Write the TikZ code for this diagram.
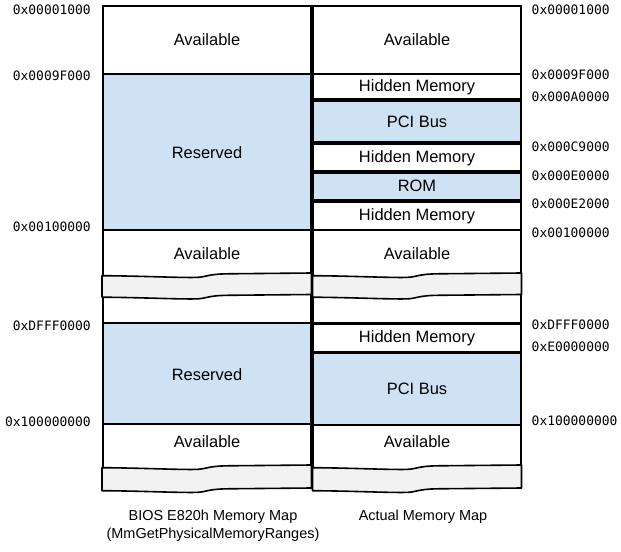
\documentclass[tikz,border=0pt]{standalone}
\usepackage{fontspec}
\setmainfont{Liberation Sans}
\newfontfamily\monofnt{DejaVu Sans Mono}
\definecolor{memblue}{HTML}{CFE2F3}
\definecolor{tornfill}{HTML}{F2F2F2}
\tikzset{
  col/.style={draw=black, line width=1.6bp, fill=white},
  colblue/.style={col, fill=memblue},
  inner/.style={draw=black, line width=2.3bp, fill=white},
  innerblue/.style={inner, fill=memblue},
  band/.style={draw=black, line width=1.6bp, fill=tornfill, line join=round},
  boxtxt/.style={font=\fontsize{16.5}{19}\selectfont, inner sep=0pt},
  addr/.style={font=\monofnt\fontsize{13}{15}\selectfont, inner sep=0pt},
  lbl/.style={addr, anchor=east},
  rbl/.style={addr, anchor=west},
  captxt/.style={font=\fontsize{14.5}{18}\selectfont, align=center, inner sep=0pt},
}
% #1 = left x, #2 = width, #3 = top y (right end), #4 = bottom y (right end)
\newcommand{\tornband}[4]{%
  \filldraw[band] ({#1},{#3+2.7})
    .. controls ({#1+0.2*#2},{#3+3.0}) and ({#1+0.36*#2},{#3+4.8}) .. ({#1+0.45*#2},{#3+4.4})
    .. controls ({#1+0.5*#2},{#3+4.1}) and ({#1+0.5*#2},{#3+1.1}) .. ({#1+0.6*#2},{#3+0.8})
    -- ({#1+#2},{#3}) -- ({#1+#2},{#4}) -- ({#1+0.6*#2},{#4+0.8})
    .. controls ({#1+0.5*#2},{#4+1.1}) and ({#1+0.5*#2},{#4+4.1}) .. ({#1+0.45*#2},{#4+4.4})
    .. controls ({#1+0.36*#2},{#4+4.8}) and ({#1+0.2*#2},{#4+3.0}) .. ({#1},{#4+2.7}) -- cycle;}
\begin{document}
\begin{tikzpicture}[x=1bp, y=-1bp]
\useasboundingbox (0,0) rectangle (621,552);
\fill[white] (0,0) rectangle (621,552);

% ---------- left column (BIOS E820h) ----------
\draw[col] (103,6) rectangle (311,74);
\node[boxtxt] (lavail1) at (207,40) {Available};
\draw[colblue] (103,74) rectangle (311,230);
\node[boxtxt] (lres1) at (207,153) {Reserved};
\draw[col] (103,230) rectangle (311,323);
\node[boxtxt] (lavail2) at (207,254) {Available};
\tornband{102}{209.5}{273}{294.5}
\draw[colblue] (103,323) rectangle (311,424);
\node[boxtxt] (lres2) at (207,375) {Reserved};
\draw[col] (103,424) rectangle (311,478);
\node[boxtxt] (lavail3) at (207,442) {Available};
\tornband{102}{209.5}{465}{488}

% ---------- right column (actual) ----------
\draw[col] (313,6) rectangle (521,74);
\node[boxtxt] (ravail1) at (417,40) {Available};
\draw[inner] (313,74) rectangle (521,99.5);
\node[boxtxt] (rhid1) at (417,87.5) {Hidden Memory};
\draw[innerblue] (313,101) rectangle (521,142);
\node[boxtxt] (rpci1) at (417,122) {PCI Bus};
\draw[inner] (313,143.5) rectangle (521,171);
\node[boxtxt] (rhid2) at (417,158) {Hidden Memory};
\draw[innerblue] (313,172.5) rectangle (521,200);
\node[boxtxt] (rrom) at (417,186) {ROM};
\draw[inner] (313,201.5) rectangle (521,230);
\node[boxtxt] (rhid3) at (417,216) {Hidden Memory};
\draw[col] (313,230) rectangle (521,323);
\node[boxtxt] (ravail2) at (417,254) {Available};
\tornband{312.5}{209}{273}{294.5}
\draw[inner] (313,324) rectangle (521,352);
\node[boxtxt] (rhid4) at (417,338) {Hidden Memory};
\draw[innerblue] (313,353) rectangle (521,425);
\node[boxtxt] (rpci2) at (417,389) {PCI Bus};
\draw[col] (313,425) rectangle (521,478);
\node[boxtxt] (ravail3) at (417,442) {Available};
\tornband{312.5}{209}{465}{488}

% ---------- left addresses ----------
\node[lbl] (la1) at (91,10) {0x00001000};
\node[lbl] (la2) at (91,76) {0x0009F000};
\node[lbl] (la3) at (91,227) {0x00100000};
\node[lbl] (la4) at (91,325.5) {0xDFFF0000};
\node[lbl] (la5) at (91,421.5) {0x100000000};

% ---------- right addresses ----------
\node[rbl] (ra1) at (531.5,10) {0x00001000};
\node[rbl] (ra2) at (531.5,75) {0x0009F000};
\node[rbl] (ra3) at (531.5,97) {0x000A0000};
\node[rbl] (ra4) at (531.5,147) {0x000C9000};
\node[rbl] (ra5) at (531.5,176) {0x000E0000};
\node[rbl] (ra6) at (531.5,204) {0x000E2000};
\node[rbl] (ra7) at (531.5,233) {0x00100000};
\node[rbl] (ra8) at (531.5,325) {0xDFFF0000};
\node[rbl] (ra9) at (531.5,347) {0xE0000000};
\node[rbl] (ra10) at (531.5,421) {0x100000000};

% ---------- captions ----------
\node[captxt] (capl) at (213,526) {BIOS E820h Memory Map\\(MmGetPhysicalMemoryRanges)};
\node[captxt] (capr) at (423,517) {Actual Memory Map};
\end{tikzpicture}
\end{document}
